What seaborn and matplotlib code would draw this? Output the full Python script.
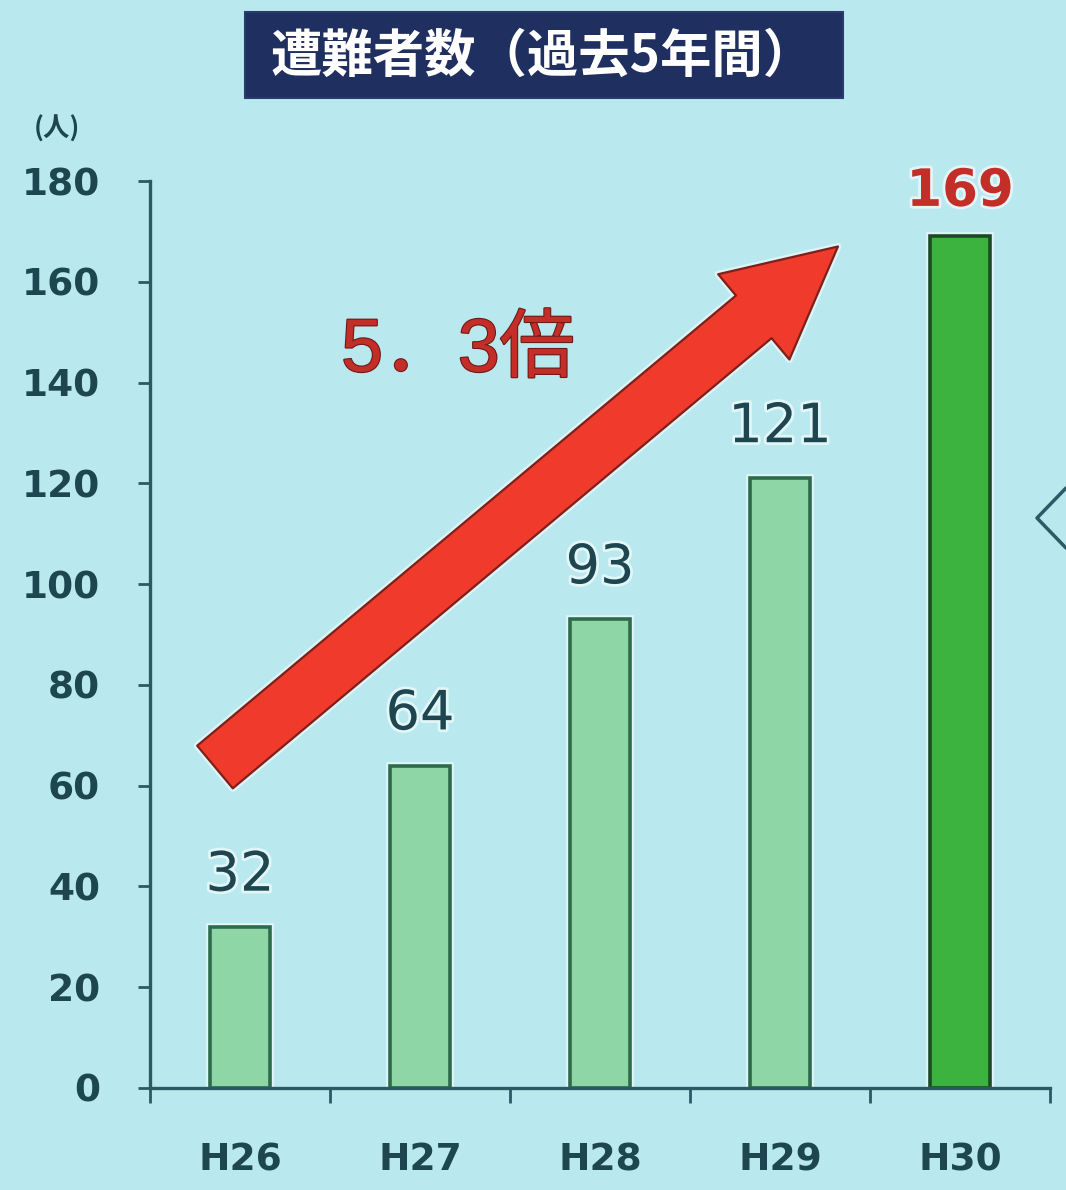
import matplotlib
matplotlib.use("Agg")
import matplotlib.pyplot as plt
import matplotlib.patheffects as pe
from matplotlib.patches import FancyArrowPatch, Rectangle
from matplotlib.lines import Line2D
from matplotlib.ticker import FixedLocator
import seaborn as sns
import pandas as pd

# 遭難者数（過去5年間）
years = ["H26", "H27", "H28", "H29", "H30"]
counts = [32, 64, 93, 121, 169]
y_ticks = [0, 20, 40, 60, 80, 100, 120, 140, 160, 180]
ratio_label = "5．3倍"

BG = "#b9e9ef"
INK = "#1d4650"
AXIS = "#2b5a66"
LIGHT_GREEN = "#8fd6a7"
LIGHT_EDGE = "#2e6b4c"
DARK_GREEN = "#3cb33f"
DARK_EDGE = "#1c4a25"
RED = "#c42e29"

sns.set_theme(style="white")
plt.rcParams["font.family"] = ["Noto Sans CJK JP", "DejaVu Sans"]

df = pd.DataFrame({"year": years, "count": counts})
colors = [LIGHT_GREEN] * 4 + [DARK_GREEN]

fig = plt.figure(figsize=(10.66, 11.90), dpi=100, facecolor=BG)
ax = fig.add_axes([150 / 1066, 102 / 1190, 900 / 1066, 907 / 1190])
ax.set_facecolor(BG)

sns.barplot(data=df, x="year", y="count", hue="year", palette=colors,
            legend=False, width=0.33, linewidth=2.6, ax=ax, saturation=1)

halo = [pe.Stroke(linewidth=5.5, foreground="white", alpha=0.55), pe.Normal()]
for bar, c in zip(ax.patches, colors):
    bar.set_edgecolor(DARK_EDGE if c == DARK_GREEN else LIGHT_EDGE)
    bar.set_path_effects(halo)

ax.set_xlim(-0.5, 4.5)
ax.set_ylim(0, 180)
ax.set_yticks(y_ticks)
ax.set_xlabel("")
ax.set_ylabel("")

for side in ("top", "right"):
    ax.spines[side].set_visible(False)
for side in ("left", "bottom"):
    ax.spines[side].set_color(AXIS)
    ax.spines[side].set_linewidth(2.4)

ax.tick_params(axis="y", direction="out", length=9, width=2, color=AXIS,
               pad=27, labelsize=27, labelcolor=INK, left=True)
for lab in ax.get_yticklabels():
    lab.set_fontfamily("DejaVu Sans")
    lab.set_fontweight("bold")

ax.xaxis.set_minor_locator(FixedLocator([i - 0.5 for i in range(len(years) + 1)]))
ax.tick_params(axis="x", which="major", length=0, pad=39, labelsize=27,
               labelcolor=INK, bottom=True)
ax.tick_params(axis="x", which="minor", direction="out", length=11, width=2,
               color=AXIS, bottom=True)
for lab in ax.get_xticklabels():
    lab.set_fontfamily("DejaVu Sans")
    lab.set_fontweight("bold")

# value labels above the bars
glow = [pe.withStroke(linewidth=4, foreground="white", alpha=0.6)]
for i, v in enumerate(counts):
    last = i == len(counts) - 1
    ax.annotate(f"{v}", xy=(i, v), xytext=(0, 22 if last else 26),
                textcoords="offset points", ha="center", va="baseline",
                fontsize=37 if last else 39, fontfamily="DejaVu Sans",
                fontweight="bold" if last else "normal",
                color=RED if last else INK, path_effects=glow)

# growth arrow
arrow = FancyArrowPatch((-0.139, 63.7), (3.322, 167.0),
                        arrowstyle="simple,head_length=0.79,head_width=0.8,tail_width=0.4",
                        mutation_scale=100, shrinkA=0, shrinkB=0,
                        facecolor="#f03b2c", edgecolor="#7e2019", linewidth=1.6,
                        zorder=5,
                        path_effects=[pe.Stroke(linewidth=5, foreground="white", alpha=0.5),
                                      pe.Normal()])
ax.add_patch(arrow)
ax.text(1.211, 146.1, ratio_label, ha="center", va="center", fontsize=54,
        family=["Liberation Sans", "Noto Sans CJK JP"],
        fontweight="normal", color=RED, zorder=6,
        path_effects=[pe.withStroke(linewidth=1.6, foreground="#6e1a16")])

# title banner
fig.add_artist(Rectangle((245 / 1066, 1 - 98 / 1190), 598 / 1066, 86 / 1190,
                         transform=fig.transFigure, facecolor="#1f2f5f",
                         edgecolor="#2a3c6e", linewidth=1.5))
fig.text(543 / 1066, 1 - 56 / 1190, "遭難者数（過去5年間）", ha="center",
         va="center", fontsize=37, fontweight="bold", color="white")

# unit label
fig.text(57 / 1066, 1 - 129 / 1190, "(人)", ha="center", va="center",
         fontsize=19, fontweight="bold", color=INK)

# navigation chevron at the right edge
fig.add_artist(Line2D([1066 / 1066, 1037 / 1066, 1066 / 1066],
                      [1 - 488 / 1190, 1 - 518 / 1190, 1 - 548 / 1190],
                      transform=fig.transFigure, color=AXIS, linewidth=2.5))

fig.savefig("out.png", dpi=100, facecolor=BG)
